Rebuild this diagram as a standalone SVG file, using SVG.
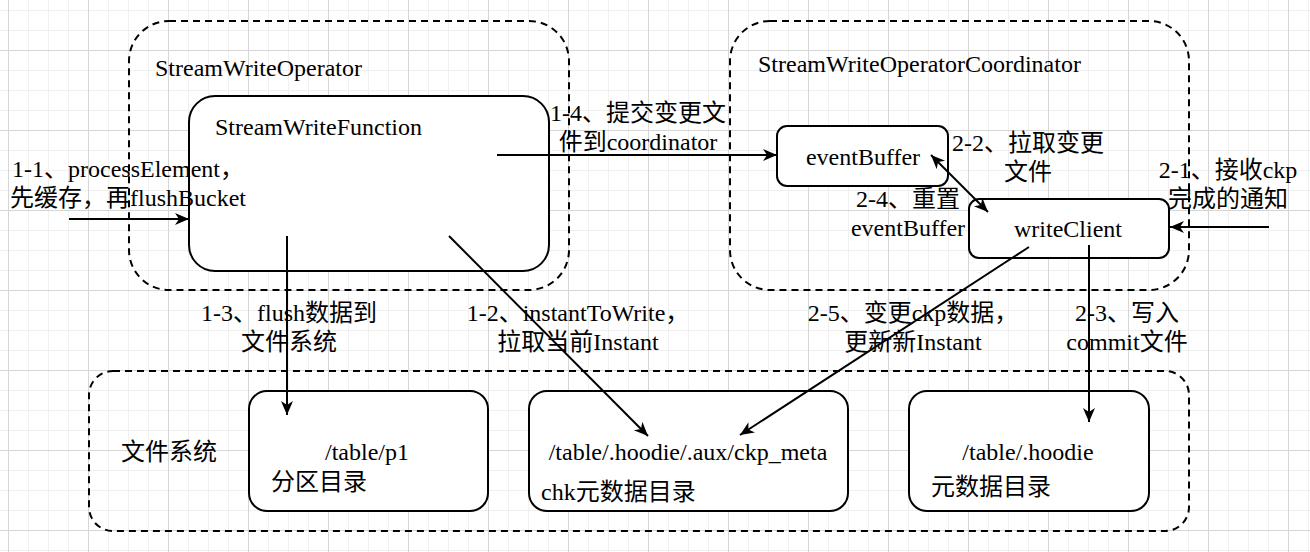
<svg xmlns="http://www.w3.org/2000/svg" width="1310" height="552" viewBox="0 0 1310 552">
<style>
text{font-family:"Liberation Serif","Noto Sans CJK SC",serif;font-size:24px;fill:#000}
.m{text-anchor:middle}
.box{fill:#fff;stroke:#000;stroke-width:2}
.ctr{fill:none;stroke:#000;stroke-width:2;stroke-dasharray:7 5}
.edge{fill:none;stroke:#000;stroke-width:2}
</style>
<defs>
<pattern id="grid" patternUnits="userSpaceOnUse" x="8" y="50" width="80" height="80">
<rect width="80" height="80" fill="#fff"/>
<rect x="20" y="0" width="1" height="80" fill="#f0f0f0"/>
<rect x="40" y="0" width="1" height="80" fill="#f0f0f0"/>
<rect x="60" y="0" width="1" height="80" fill="#f0f0f0"/>
<rect x="0" y="20" width="80" height="1" fill="#f0f0f0"/>
<rect x="0" y="40" width="80" height="1" fill="#f0f0f0"/>
<rect x="0" y="60" width="80" height="1" fill="#f0f0f0"/>
<rect x="0" y="0" width="1" height="80" fill="#d6d6d6"/>
<rect x="0" y="0" width="80" height="1" fill="#d6d6d6"/>
</pattern>
<marker id="arr" markerUnits="userSpaceOnUse" markerWidth="16" markerHeight="14" refX="14" refY="6" orient="auto-start-reverse">
<path d="M0,0 L14,6 L0,12 L4,6 Z" fill="#000"/>
</marker>
</defs>
<rect width="1310" height="552" fill="url(#grid)"/>

<g id="operator">
<rect class="ctr" x="129" y="21" width="440" height="269" rx="40"/>
<text x="155" y="76">StreamWriteOperator</text>
</g>
<g id="coordinator">
<rect class="ctr" x="730" y="21" width="459" height="269" rx="40"/>
<text x="758" y="72">StreamWriteOperatorCoordinator</text>
</g>
<g id="filesystem">
<rect class="ctr" x="89" y="371" width="1100" height="160" rx="24"/>
<text x="121" y="460">文件系统</text>
</g>

<g id="streamWriteFunction">
<rect class="box" x="189" y="96" width="360" height="175" rx="26"/>
<text x="215" y="135">StreamWriteFunction</text>
</g>
<g id="eventBuffer">
<rect class="box" x="777" y="126" width="171" height="60" rx="10"/>
<text class="m" x="863" y="165">eventBuffer</text>
</g>
<g id="writeClient">
<rect class="box" x="969" y="199" width="200" height="59" rx="10"/>
<text class="m" x="1068" y="237">writeClient</text>
</g>
<g id="p1">
<rect class="box" x="249" y="391" width="239" height="120" rx="18"/>
<text class="m" x="367" y="460">/table/p1</text>
<text x="271" y="490">分区目录</text>
</g>
<g id="ckpMeta">
<rect class="box" x="529" y="391" width="319" height="120" rx="18"/>
<text class="m" x="688" y="460">/table/.hoodie/.aux/ckp_meta</text>
<text x="541" y="500">chk元数据目录</text>
</g>
<g id="hoodie">
<rect class="box" x="909" y="391" width="240" height="120" rx="18"/>
<text class="m" x="1028" y="460">/table/.hoodie</text>
<text x="931" y="495">元数据目录</text>
</g>

<g id="connectors">
<line class="edge" x1="69" y1="219" x2="189" y2="219" marker-end="url(#arr)"/>
<line class="edge" x1="497" y1="155" x2="777" y2="155" marker-end="url(#arr)"/>
<line class="edge" x1="287" y1="236" x2="287" y2="415" marker-end="url(#arr)"/>
<line class="edge" x1="449" y1="236" x2="648" y2="436" marker-end="url(#arr)"/>
<line class="edge" x1="931" y1="155" x2="988" y2="212" marker-start="url(#arr)" marker-end="url(#arr)"/>
<line class="edge" x1="1269" y1="227" x2="1170" y2="227" marker-end="url(#arr)"/>
<line class="edge" x1="1029" y1="247" x2="740" y2="435" marker-end="url(#arr)"/>
<line class="edge" x1="1089" y1="245" x2="1089" y2="422" marker-end="url(#arr)"/>
<text class="m" x="128" y="177">1-1、processElement，</text>
<text class="m" x="128" y="206">先缓存，再flushBucket</text>
<text class="m" x="638" y="121">1-4、提交变更文</text>
<text class="m" x="638" y="150">件到coordinator</text>
<text class="m" x="1028" y="151">2-2、拉取变更</text>
<text class="m" x="1028" y="180">文件</text>
<text class="m" x="908" y="207">2-4、重置</text>
<text class="m" x="908" y="236">eventBuffer</text>
<text class="m" x="1228" y="178">2-1、接收ckp</text>
<text class="m" x="1228" y="207">完成的通知</text>
<text class="m" x="289" y="321">1-3、flush数据到</text>
<text class="m" x="289" y="350">文件系统</text>
<text class="m" x="578" y="321">1-2、instantToWrite，</text>
<text class="m" x="578" y="350">拉取当前Instant</text>
<text class="m" x="913" y="321">2-5、变更ckp数据，</text>
<text class="m" x="913" y="350">更新新Instant</text>
<text class="m" x="1127" y="321">2-3、写入</text>
<text class="m" x="1127" y="350">commit文件</text>
</g>
</svg>
